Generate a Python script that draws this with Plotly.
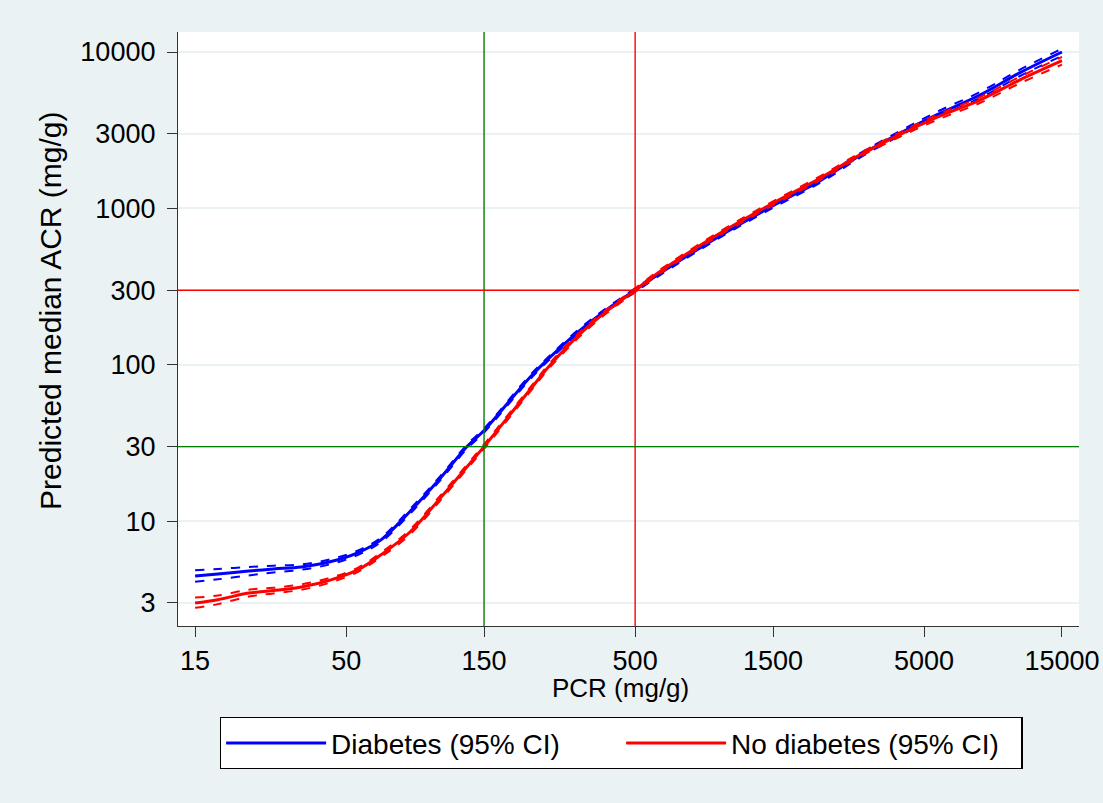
import plotly.graph_objects as go

# ---- data ----
pcr = [15, 18, 23, 28, 35, 44, 55, 66, 83, 106, 131, 150, 216, 254, 322, 400, 500, 610,
       985, 1500, 2180, 3000, 4120, 5500, 7800, 10700, 15000]

diab_est = [4.47, 4.6, 4.8, 4.95, 5.1, 5.5, 6.3, 7.6, 11.5, 18.9, 30, 38, 83, 112, 166, 226,
            300, 385, 670, 1040, 1500, 2180, 3020, 3950, 5310, 7350, 10000]
diab_lo = [4.1, 4.25, 4.5, 4.7, 4.9, 5.3, 6.1, 7.35, 11.1, 18.3, 29.1, 36.9, 80.5, 109, 161, 220,
           292, 375, 652, 1010, 1455, 2110, 2920, 3800, 5080, 7000, 9450]
diab_hi = [4.85, 4.95, 5.1, 5.2, 5.3, 5.7, 6.5, 7.85, 11.9, 19.5, 30.9, 39.1, 85.5, 115, 171, 232,
           308, 395, 688, 1070, 1545, 2250, 3120, 4120, 5550, 7700, 10500]

nodiab_est = [3.0, 3.15, 3.47, 3.6, 3.8, 4.2, 4.9, 6.1, 8.5, 14.1, 22.3, 30, 69, 99.7, 157, 221,
              300, 395, 696, 1080, 1560, 2200, 2960, 3800, 4930, 6620, 8800]
nodiab_lo = [2.8, 2.95, 3.3, 3.45, 3.65, 4.05, 4.75, 5.9, 8.2, 13.6, 21.6, 29, 66.8, 96.5, 152, 215,
             292, 384, 677, 1050, 1515, 2140, 2870, 3660, 4720, 6300, 8300]
nodiab_hi = [3.25, 3.35, 3.65, 3.75, 3.95, 4.35, 5.05, 6.3, 8.8, 14.6, 23, 31, 71.2, 103, 162, 227,
             308, 406, 715, 1110, 1605, 2260, 3060, 3940, 5140, 6940, 9300]

x_ticks = [15, 50, 150, 500, 1500, 5000, 15000]
y_ticks = [3, 10, 30, 100, 300, 1000, 3000, 10000]

x_refs = [150, 500]
x_ref_colors = ["#008000", "#FF0000"]
y_refs = [30, 300]
y_ref_colors = ["#008000", "#FF0000"]

BG = "#EAF2F3"
FONT = "Liberation Sans, Arial, sans-serif"

fig = go.Figure()

series = [
    ("Diabetes (95% CI)", "#0000FF", diab_est, diab_lo, diab_hi),
    ("No diabetes (95% CI)", "#FF0000", nodiab_est, nodiab_lo, nodiab_hi),
]
for name, color, est, lo, hi in series:
    for ci in (lo, hi):
        fig.add_trace(go.Scatter(
            x=pcr, y=ci, mode="lines", showlegend=False, hoverinfo="skip",
            line=dict(color=color, width=2, dash="dash", shape="spline"),
        ))
    fig.add_trace(go.Scatter(
        x=pcr, y=est, mode="lines", name=name,
        line=dict(color=color, width=3, shape="spline"),
    ))

for v, c in zip(x_refs, x_ref_colors):
    fig.add_vline(x=v, line=dict(color=c, width=1.4), layer="above")
for v, c in zip(y_refs, y_ref_colors):
    fig.add_hline(y=v, line=dict(color=c, width=1.4), layer="above")

fig.update_xaxes(
    type="log", range=[1.117, 4.235],
    tickmode="array", tickvals=x_ticks, ticktext=[str(t) for t in x_ticks],
    showgrid=False, zeroline=False,
    showline=True, linecolor="#333333", linewidth=1.3,
    ticks="outside", ticklen=10, tickwidth=1.3, tickcolor="#333333",
    tickfont=dict(family=FONT, size=27, color="#000000"),
)
fig.update_yaxes(
    type="log", range=[0.330, 4.128],
    tickmode="array", tickvals=y_ticks, ticktext=[str(t) for t in y_ticks],
    showgrid=True, gridcolor=BG, gridwidth=2, zeroline=False,
    showline=True, linecolor="#333333", linewidth=1.3,
    ticks="outside", ticklen=10, tickwidth=1.3, tickcolor="#333333",
    ticklabelstandoff=6,
    tickfont=dict(family=FONT, size=27, color="#000000"),
)

fig.add_annotation(
    text="Predicted median ACR (mg/g)", textangle=-90,
    xref="paper", yref="paper", x=-0.141, y=0.532,
    xanchor="center", yanchor="middle", showarrow=False,
    font=dict(family=FONT, size=30, color="#000000"),
)
fig.add_annotation(
    text="PCR (mg/g)",
    xref="paper", yref="paper", x=0.491, y=-0.104,
    xanchor="center", yanchor="middle", showarrow=False,
    font=dict(family=FONT, size=26, color="#000000"),
)

fig.update_layout(
    width=1103, height=803,
    margin=dict(l=178, r=24, t=32, b=177, autoexpand=False),
    paper_bgcolor=BG, plot_bgcolor="#FFFFFF",
    font=dict(family=FONT, color="#000000"),
    showlegend=True,
    legend=dict(
        orientation="h", xanchor="center", x=0.492, yanchor="top", y=-0.153,
        bgcolor="#FFFFFF", bordercolor="#000000", borderwidth=1.3,
        font=dict(family=FONT, size=28, color="#000000"),
        itemwidth=100, entrywidth=285, entrywidthmode="pixels",
        traceorder="normal",
    ),
)

fig.write_html("out.html")
